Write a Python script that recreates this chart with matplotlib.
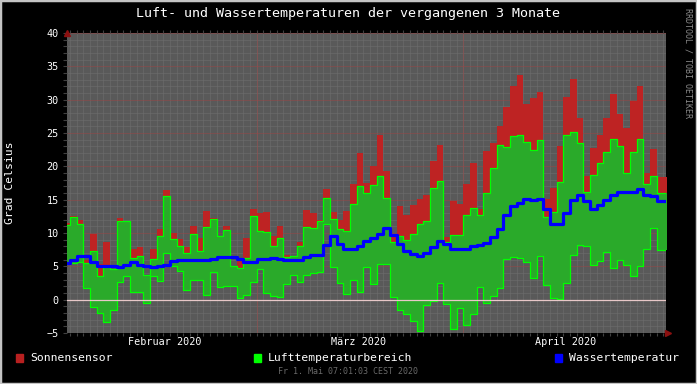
import numpy as np
import matplotlib
matplotlib.use('Agg')
import matplotlib.pyplot as plt
from matplotlib.patches import Rectangle

# daily values, day 0 = 1. Feb 2020
sonne = [11.5, 12.6, 12.0, 6.0, 9.9, 5.35, 8.6, 4.6, 12.25, 11.8,
         7.6, 7.85, 3.75, 7.6, 10.65, 16.5, 10.0, 9.1, 7.9, 11.1,
         9.3, 13.25, 12.25, 9.6, 11.1, 5.0, 5.75, 9.25, 13.6, 13.05,
         13.15, 9.6, 11.1, 6.7, 6.5, 8.7, 13.5, 13.0, 11.9, 16.6,
         13.15, 11.95, 13.3, 17.4, 22.0, 17.5, 20.1, 24.75, 19.3, 9.4,
         14.1, 12.75, 14.2, 15.1, 15.7, 20.75, 23.2, 9.45, 14.75, 14.4,
         17.3, 20.5, 13.6, 22.25, 23.5, 26.05, 28.95, 32.0, 33.7, 29.35,
         30.2, 31.1, 15.1, 16.8, 23.0, 30.4, 33.1, 27.2, 18.6, 22.8,
         24.7, 27.3, 30.85, 27.85, 25.8, 29.8, 32.05, 19.0, 22.6, 18.4,
         18.4]
luft_max = [11.2, 12.35, 11.4, 5.5, 7.35, 3.5, 5.0, 4.6, 11.85, 11.8,
            6.25, 6.6, 3.75, 6.15, 9.6, 15.6, 9.1, 8.0, 7.05, 9.9,
            7.35, 10.9, 12.05, 9.6, 10.5, 5.0, 4.75, 6.2, 12.55, 10.35,
            10.15, 8.0, 9.25, 6.45, 6.5, 8.1, 10.95, 10.8, 11.75, 15.25,
            12.1, 10.6, 10.3, 14.4, 17.0, 16.0, 17.25, 18.55, 15.25, 8.6,
            9.5, 9.0, 9.9, 11.4, 11.85, 16.8, 17.8, 8.6, 9.65, 9.75,
            12.75, 13.75, 12.75, 16.0, 19.75, 23.15, 22.9, 24.5, 24.65, 23.7,
            22.45, 24.0, 12.4, 13.15, 17.7, 24.7, 25.1, 23.5, 16.2, 18.7,
            20.5, 22.15, 24.05, 23.05, 19.0, 22.15, 24.05, 17.4, 18.6, 16.0,
            16.0]
luft_min = [5.5, 5.5, 5.6, 1.75, -1.05, -2.0, -3.4, -1.55, 2.65, 3.5,
            1.15, 1.15, -0.5, 3.5, 2.85, 7.0, 5.0, 4.3, 1.45, 3.0,
            3.0, 0.7, 4.15, 1.95, 2.05, 2.0, 0.2, 0.75, 2.65, 4.6,
            1.0, 0.55, 0.4, 2.4, 3.7, 2.6, 3.65, 4.05, 4.15, 11.4,
            4.9, 2.5, 0.9, 3.0, 1.1, 4.9, 2.35, 5.35, 5.35, 0.4,
            -1.55, -2.2, -3.2, -4.7, -0.8, -0.2, 2.5, -0.6, -4.4, -1.25,
            -3.8, -2.2, 1.9, -0.5, 0.5, 1.75, 6.1, 6.35, 6.25, 5.6,
            3.25, 6.5, 2.2, 0.25, 0.05, 2.5, 6.65, 8.25, 8.0, 5.15,
            5.75, 7.1, 4.75, 5.9, 5.2, 3.55, 5.05, 7.6, 10.75, 7.45,
            7.45]
wasser = [5.5, 6.0, 6.5, 6.6, 5.7, 5.1, 5.1, 5.0, 4.9, 5.25,
          5.6, 5.25, 5.1, 4.9, 5.1, 5.25, 5.85, 6.0, 6.0, 5.9,
          6.0, 6.0, 6.1, 6.4, 6.45, 6.45, 6.1, 5.7, 5.7, 6.1,
          6.15, 6.2, 6.1, 5.9, 5.9, 5.9, 6.4, 6.7, 6.7, 8.2,
          9.5, 8.4, 7.6, 7.6, 8.0, 8.8, 9.3, 9.9, 10.8, 9.75,
          8.3, 7.35, 6.9, 6.6, 7.05, 7.9, 8.8, 8.3, 7.6, 7.6,
          7.6, 8.0, 8.2, 8.45, 9.4, 10.6, 12.65, 14.0, 14.55, 15.1,
          14.95, 15.1, 13.6, 11.35, 11.35, 13.05, 14.95, 15.7, 14.75, 13.65,
          14.25, 14.95, 15.75, 16.1, 16.2, 16.2, 16.6, 15.75, 15.5, 14.85,
          14.85]

monat_labels = ['Februar 2020', 'März 2020', 'April 2020']
monat_pos = [15.2, 44.2, 75.4]   # label centres (days)
monat_start = [29, 60]            # 1. Mär, 1. Apr

W, H = 697, 384
plt.rcParams['font.family'] = 'DejaVu Sans Mono'

fig = plt.figure(figsize=(W / 100, H / 100), dpi=100, facecolor='black')
ax = fig.add_axes([67 / W, 51 / H, 599 / W, 300 / H])
ax.set_facecolor('#595959')

def ext(v):
    return np.append(v, v[-1])

x = np.arange(len(sonne) + 1)
s, mx, mn, wt = ext(sonne), ext(luft_max), ext(luft_min), ext(wasser)

# grid
for d in range(0, len(sonne) + 1):
    ax.axvline(d, color='#6f6f6f', lw=0.72, ls=(0, (1, 1)), zorder=0.5)
for t in range(-5, 41):
    if t % 5:
        ax.axhline(t, color='#6f6f6f', lw=0.72, ls=(0, (1, 1)), zorder=0.5)
for t in range(-5, 41, 5):
    ax.axhline(t, color='#9a4646', lw=0.72, ls=(0, (1, 1)), zorder=0.6)
for d in monat_start:
    ax.axvline(d, color='#9a4646', lw=0.72, ls=(0, (1, 1)), zorder=0.6)

ax.fill_between(x, mn, s, step='post', color='#be2323', lw=0, zorder=1)
ax.fill_between(x, mn, mx, step='post', color='#2aaa2a', lw=0, zorder=2)
ax.step(x, mx, where='post', color='#00ff00', lw=0.9, zorder=3)
ax.step(x, mn, where='post', color='#00ff00', lw=0.9, zorder=3)
ax.axhline(0, color='#e8c8c8', lw=0.9, zorder=3.5)
ax.step(x, wt, where='post', color='#0000ff', lw=2.3, zorder=4)

ax.set_xlim(0.54, 90.39)
ax.set_ylim(-5, 40)
for sp in ax.spines.values():
    sp.set_visible(False)

ax.set_yticks(range(-5, 41, 5))
ax.set_yticks(range(-5, 41), minor=True)
ax.tick_params(axis='y', which='both', colors='#404040', labelcolor='white',
               labelsize=7.3, length=3, width=0.8, pad=3)
ax.set_xticks(monat_pos)
ax.set_xticklabels(monat_labels)
ax.set_xticks(range(1, len(sonne)), minor=True)
ax.tick_params(axis='x', which='major', length=0, labelcolor='white',
               labelsize=7.3, pad=3)
ax.tick_params(axis='x', which='minor', colors='#404040', length=2,
               width=0.8, top=True, direction='out')

# axis arrows
ax.plot([0], [1.0], marker='^', color='#8b1010', ms=5, transform=ax.transAxes,
        clip_on=False, zorder=5)
ax.plot([1.004], [0], marker='>', color='#8b1010', ms=5, transform=ax.transAxes,
        clip_on=False, zorder=5)

fig.text(348 / W, 1 - 14 / H, 'Luft- und Wassertemperaturen der vergangenen 3 Monate',
         color='white', fontsize=9.6, ha='center', va='center')
fig.text(10 / W, 1 - 183 / H, 'Grad Celsius', color='white', fontsize=8.2,
         rotation=90, ha='center', va='center')
fig.text(688 / W, 1 - 8 / H, 'RRDTOOL / TOBI OETIKER', color='#8a8a8a',
         fontsize=6, rotation=-90, ha='center', va='top')
fig.text(348 / W, 1 - 372 / H, 'Fr 1. Mai 07:01:03 CEST 2020', color='#6a6a6a',
         fontsize=6, ha='center', va='center')

legend = [('Sonnensensor', '#b82020', 16), ('Lufttemperaturbereich', '#00ff00', 254),
          ('Wassertemperatur', '#0000ff', 555)]
for name, col, px in legend:
    fig.add_artist(Rectangle((px / W, 1 - 362 / H), 7 / W, 8 / H, color=col,
                             transform=fig.transFigure))
    fig.text((px + 14) / W, 1 - 358 / H, name, color='white', fontsize=8.2,
             ha='left', va='center')

# frame
fig.add_artist(Rectangle((0, 0), 1, 1, fill=False, ec='#c4c4c4', lw=2.5,
                         transform=fig.transFigure))

fig.savefig('out.png', dpi=100, facecolor='black')
